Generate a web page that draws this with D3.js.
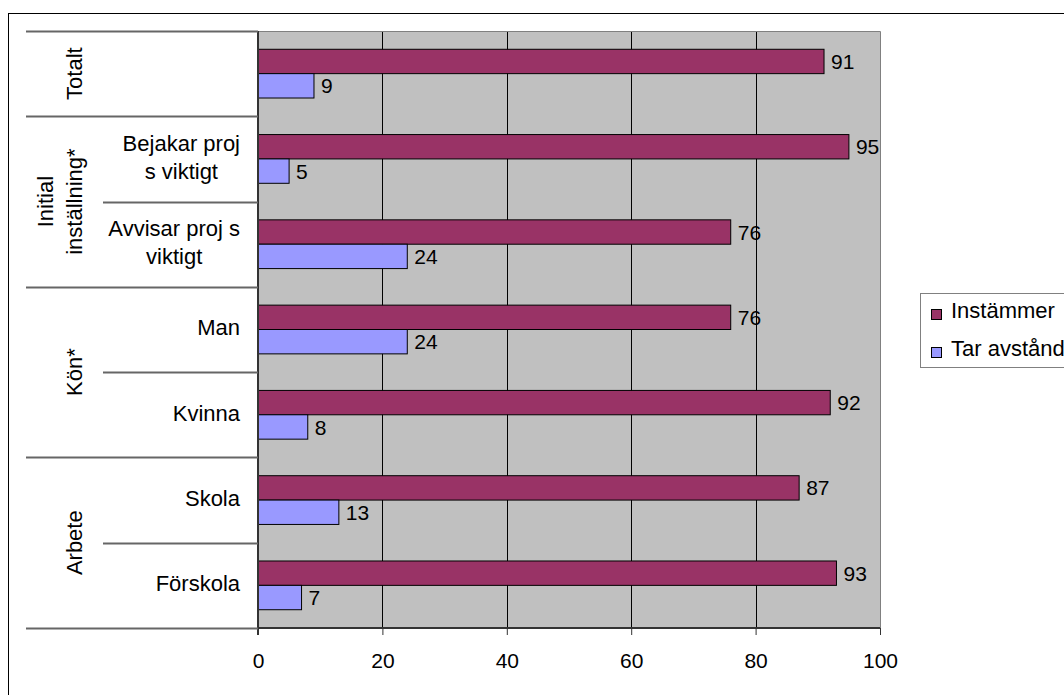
<!DOCTYPE html>
<html>
<head>
<meta charset="utf-8">
<script src="https://cdn.jsdelivr.net/npm/d3@7"></script>
<style>
  html, body { margin: 0; padding: 0; background: #fff; }
  svg { display: block; font-family: "Liberation Sans", Arial, sans-serif; }
</style>
</head>
<body>
<svg id="chart" width="1064" height="695"></svg>
<script>
// Category rows, top to bottom (multi-line labels split on "|")
const rowLabels = ["", "Bejakar proj|s viktigt", "Avvisar proj s|viktigt", "Man", "Kvinna", "Skola", "Förskola"];
const rowKeys = ["r0", "r1", "r2", "r3", "r4", "r5", "r6"];
// Outer groups: label and number of rows they span
const groupLabels = ["Totalt", "Initial|inställning*", "Kön*", "Arbete"];
const groupSizes = [1, 2, 2, 2];
// Series
const seriesNames = ["Instämmer", "Tar avstånd"];
const instammer = [91, 95, 76, 76, 92, 87, 93];
const tarAvstand = [9, 5, 24, 24, 8, 13, 7];
const xTicks = [0, 20, 40, 60, 80, 100];

const colors = ["#993366", "#9999FF"];
const FONT = 22;      // category and legend text
const NUM_FONT = 21;  // numbers

const svg = d3.select("#chart");

// Outer chart frame (runs off the right and bottom edges)
svg.append("rect")
  .attr("x", 8.5).attr("y", 13.5)
  .attr("width", 1120).attr("height", 720)
  .attr("fill", "none").attr("stroke", "#000").attr("stroke-width", 1);

const plot = { left: 258, right: 880, top: 31, bottom: 628 };

const x = d3.scaleLinear().domain([0, 100]).range([plot.left, plot.right]);
const y = d3.scaleBand().domain(rowKeys).range([plot.top, plot.bottom]).paddingInner(0).paddingOuter(0);
const barH = y.bandwidth() / 3.5;           // gap width 150%
const barOff = (y.bandwidth() - 2 * barH) / 2;

// Plot background
svg.append("rect")
  .attr("x", plot.left).attr("y", plot.top)
  .attr("width", plot.right - plot.left).attr("height", plot.bottom - plot.top)
  .attr("fill", "#C0C0C0");

// Vertical gridlines
svg.append("g").selectAll("line")
  .data(xTicks.filter(t => t > 0 && t < 100))
  .join("line")
  .attr("x1", d => Math.round(x(d)) + 0.5).attr("x2", d => Math.round(x(d)) + 0.5)
  .attr("y1", plot.top).attr("y2", plot.bottom)
  .attr("stroke", "#000").attr("stroke-width", 1);

// Plot border top and right
svg.append("path")
  .attr("d", `M${plot.left},${plot.top + 0.5}H${plot.right + 0.5}V${plot.bottom}`)
  .attr("fill", "none").attr("stroke", "#808080").attr("stroke-width", 1);

// Bars with value labels
const series = [instammer, tarAvstand];
series.forEach((vals, si) => {
  const g = svg.append("g");
  g.selectAll("rect")
    .data(vals)
    .join("rect")
    .attr("x", x(0))
    .attr("y", (d, i) => y(rowKeys[i]) + barOff + si * barH)
    .attr("width", d => x(d) - x(0))
    .attr("height", barH)
    .attr("fill", colors[si])
    .attr("stroke", "#000").attr("stroke-width", 1);
  g.selectAll("text")
    .data(vals)
    .join("text")
    .attr("x", d => x(d) + 7)
    .attr("y", (d, i) => y(rowKeys[i]) + barOff + si * barH + barH / 2)
    .attr("dy", "0.36em")
    .attr("font-size", NUM_FONT)
    .attr("fill", "#000")
    .text(d => d);
});

// X axis
const xAxis = d3.axisBottom(x).tickValues(xTicks).tickSize(7).tickPadding(18).tickFormat(d3.format("d"));
const gx = svg.append("g")
  .attr("transform", `translate(0,${plot.bottom})`)
  .call(xAxis);
gx.select(".domain").attr("stroke", "#333").attr("stroke-width", 2).attr("d", `M${plot.left},0H${plot.right}`);
gx.selectAll(".tick line").attr("stroke", "#333");
gx.selectAll(".tick text").attr("font-size", NUM_FONT).attr("font-family", "Liberation Sans, Arial, sans-serif").attr("fill", "#000");

// Y axis line
svg.append("line")
  .attr("x1", plot.left).attr("x2", plot.left)
  .attr("y1", plot.top).attr("y2", plot.bottom + 7)
  .attr("stroke", "#333").attr("stroke-width", 2);

// Category separators: outer group boundaries reach further left
const boundaries = [0];
groupSizes.forEach(s => boundaries.push(boundaries[boundaries.length - 1] + s));
const sepG = svg.append("g");
for (let i = 0; i <= rowKeys.length; i++) {
  const yy = i < rowKeys.length ? y(rowKeys[i]) : plot.bottom;
  const outer = boundaries.includes(i);
  sepG.append("line")
    .attr("x1", outer ? 26 : 103).attr("x2", plot.left)
    .attr("y1", Math.round(yy) + 0.5).attr("y2", Math.round(yy) + 0.5)
    .attr("stroke", "#666").attr("stroke-width", 2);
}

// Row labels (block right-aligned, lines centred within the block)
const labelRight = 240;
const lineH = 28;
rowLabels.forEach((lab, i) => {
  if (!lab) return;
  const lines = lab.split("|");
  const cy = y(rowKeys[i]) + y.bandwidth() / 2;
  const t = svg.append("text").attr("font-size", FONT).attr("fill", "#000").attr("text-anchor", "middle");
  const spans = lines.map((ln, k) =>
    t.append("tspan").attr("y", cy + (k - (lines.length - 1) / 2) * lineH - 2).attr("dy", "0.36em").text(ln));
  const w = d3.max(spans, s => s.node().getComputedTextLength());
  spans.forEach(s => s.attr("x", labelRight - w / 2));
});

// Group labels, rotated
groupLabels.forEach((lab, gi) => {
  const lines = lab.split("|");
  const y0 = y(rowKeys[boundaries[gi]]);
  const y1 = boundaries[gi + 1] < rowKeys.length ? y(rowKeys[boundaries[gi + 1]]) : plot.bottom;
  const cy = (y0 + y1) / 2;
  const cx = 74;
  const t = svg.append("text")
    .attr("transform", `translate(${cx},${cy}) rotate(-90)`)
    .attr("font-size", FONT).attr("fill", "#000").attr("text-anchor", "middle");
  lines.forEach((ln, k) => {
    t.append("tspan").attr("x", 0)
      .attr("y", (k - (lines.length - 1)) * 29)
      .attr("dy", "0.36em").text(ln);
  });
});

// Legend
const legend = svg.append("g");
legend.append("rect")
  .attr("x", 920.5).attr("y", 293.5).attr("width", 200).attr("height", 74)
  .attr("fill", "#fff").attr("stroke", "#808080").attr("stroke-width", 1);
seriesNames.forEach((name, i) => {
  legend.append("rect")
    .attr("x", 931.5).attr("y", 309.5 + i * 38).attr("width", 10).attr("height", 10)
    .attr("fill", colors[i]).attr("stroke", "#000").attr("stroke-width", 1);
  legend.append("text")
    .attr("x", 951).attr("y", 318 + i * 38)
    .attr("font-size", FONT).attr("fill", "#000")
    .text(name);
});
</script>
</body>
</html>
